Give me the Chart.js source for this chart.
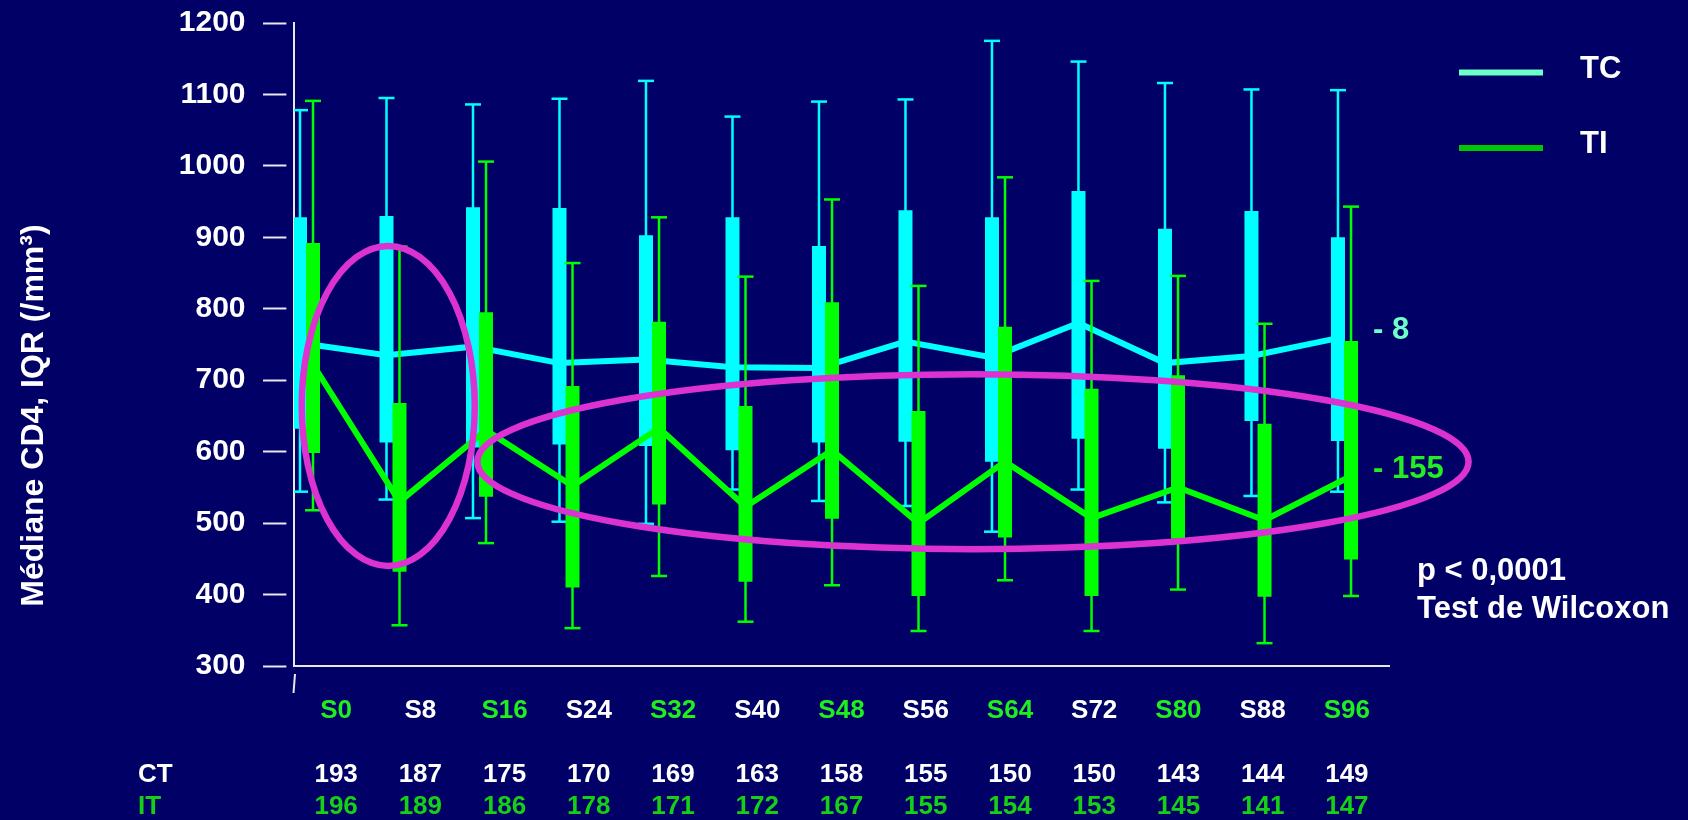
<!DOCTYPE html>
<html>
<head>
<meta charset="utf-8">
<title>Médiane CD4 – TC / TI</title>
<script src="https://cdn.jsdelivr.net/npm/chart.js@4.4.1/dist/chart.umd.min.js"></script>
<style>
  html, body { margin: 0; padding: 0; background: #000066; }
  canvas { display: block; }
</style>
</head>
<body>
<canvas id="cd4" width="1688" height="820"></canvas>
<script>
// Visits (weeks) and patients per arm at each visit
const weekLabels = ['S0', 'S8', 'S16', 'S24', 'S32', 'S40', 'S48', 'S56', 'S64', 'S72', 'S80', 'S88', 'S96'];
const ctCounts = [193, 187, 175, 170, 169, 163, 158, 155, 150, 150, 143, 144, 149];
const itCounts = [196, 189, 186, 178, 171, 172, 167, 155, 154, 153, 145, 141, 147];

// CD4 (/mm3) – continuous therapy (TC)
const tcMax    = [1078, 1095, 1086, 1094, 1119, 1069, 1090, 1093, 1175, 1146, 1116, 1107, 1106];
const tcQ3     = [928, 930, 942, 941, 903, 928, 888, 938, 928, 965, 912, 937, 900];
const tcMedian = [752, 735, 747, 724, 729, 718, 717, 754, 732, 780, 724, 734, 759];
const tcQ1     = [632, 613, 606, 610, 608, 602, 613, 614, 586, 618, 604, 643, 615];
const tcMin    = [544, 533, 507, 502, 499, 547, 531, 524, 488, 547, 529, 538, 544];

// CD4 (/mm3) – intermittent therapy (TI)
const tiMax    = [1091, 887, 1006, 864, 928, 845, 953, 832, 984, 839, 846, 779, 943];
const tiQ3     = [892, 668, 795, 692, 782, 664, 809, 657, 775, 688, 707, 639, 755];
const tiMedian = [722, 530, 630, 552, 633, 523, 602, 500, 586, 507, 550, 504, 566];
const tiQ1     = [598, 432, 537, 410, 526, 418, 506, 398, 480, 398, 478, 397, 449];
const tiMin    = [518, 357, 472, 353, 426, 362, 413, 349, 420, 349, 407, 332, 398];

// Y axis range
const yMin = 300;
const yMax = 1200;
const yStep = 100;

const FONT = "'Liberation Sans', Arial, Helvetica, sans-serif";
const WHITE = '#FFFFFF';
const AXIS = '#E8E8F0';
const CYAN = '#00FFFF';
const GREEN = '#00FF00';
const LABEL_GREEN = '#1FEF1F';
const COUNT_GREEN = '#16D016';
const RING = '#DC32D2';

Chart.defaults.font.family = FONT;
Chart.defaults.font.weight = 'bold';
Chart.defaults.color = WHITE;

const boxData = (lo, hi) => lo.map((v, i) => ({ x: i, y: [v, hi[i]] }));
const pointData = vals => vals.map((v, i) => ({ x: i, y: v }));

function seriesDatasets(name, color, axisId, mn, q1, med, q3, mx, baseOrder) {
  return [
    { type: 'bar', label: name + ' range', data: boxData(mn, mx), xAxisID: axisId,
      backgroundColor: color, barThickness: 2.5, grouped: false, inflateAmount: 0, order: baseOrder + 3 },
    { type: 'line', label: name + ' caps', data: pointData(mx).concat(pointData(mn)), xAxisID: axisId,
      showLine: false, pointStyle: 'line', pointRadius: 8, pointBorderWidth: 2.5,
      pointBorderColor: color, pointBackgroundColor: color, order: baseOrder + 2 },
    { type: 'bar', label: name, data: boxData(q1, q3), xAxisID: axisId,
      backgroundColor: color, barThickness: 14, grouped: false, inflateAmount: 0, order: baseOrder + 1 },
    { type: 'line', label: name + ' médiane', data: pointData(med), xAxisID: axisId,
      borderColor: color, borderWidth: 6, borderJoinStyle: 'miter', pointRadius: 0,
      tension: 0, order: baseOrder }
  ];
}

// Ellipses highlighting the fall of the TI medians (category index / CD4 units)
const rings = [
  { cx: 1.02, cy: 664, rx: 1.0, ry: 224 },
  { cx: 7.78, cy: 586, rx: 5.73, ry: 122.5 }
];

const legendItems = [
  { text: 'TC', color: '#6CFFC8' },
  { text: 'TI', color: '#00C800' }
];

const notes = [
  { text: '- 8', color: '#6CFFC8', dx: -16, value: 757 },
  { text: '- 155', color: '#22EE22', dx: -16, value: 563 },
  { text: 'p < 0,0001', color: WHITE, dx: 28, value: 420.5 },
  { text: 'Test de Wilcoxon', color: WHITE, dx: 28, value: 367 }
];

const yTitle = 'Médiane CD4, IQR (/mm³)';

const overlay = {
  id: 'overlay',
  afterDatasetsDraw(chart) {
    const { ctx } = chart;
    const xs = chart.scales.xC, ys = chart.scales.y;
    ctx.save();
    ctx.strokeStyle = RING;
    ctx.lineWidth = 6.5;
    rings.forEach(r => {
      const px = xs.getPixelForValue(r.cx);
      const py = ys.getPixelForValue(r.cy);
      const rx = xs.getPixelForValue(r.cx + r.rx) - px;
      const ry = py - ys.getPixelForValue(r.cy + r.ry);
      ctx.beginPath();
      ctx.ellipse(px, py, rx, ry, 0, 0, Math.PI * 2);
      ctx.stroke();
    });
    ctx.restore();
  },
  afterDraw(chart) {
    const { ctx, chartArea } = chart;
    const ys = chart.scales.y;
    ctx.save();

    // axis break mark under the y axis
    ctx.strokeStyle = AXIS;
    ctx.lineWidth = 2;
    ctx.beginPath();
    ctx.moveTo(chartArea.left + 1, chartArea.bottom + 8);
    ctx.lineTo(chartArea.left - 0.5, chartArea.bottom + 27);
    ctx.stroke();

    // y axis title
    ctx.save();
    ctx.translate(43, (chartArea.top + chartArea.bottom) / 2 + 71);
    ctx.rotate(-Math.PI / 2);
    ctx.fillStyle = WHITE;
    ctx.font = 'bold 32px ' + FONT;
    ctx.textAlign = 'center';
    ctx.textBaseline = 'alphabetic';
    ctx.fillText(yTitle, 0, 0);
    ctx.restore();

    // legend
    ctx.font = 'bold 31px ' + FONT;
    ctx.textAlign = 'left';
    ctx.textBaseline = 'alphabetic';
    legendItems.forEach((item, i) => {
      const ly = chartArea.top + 49.5 + i * 75.4;
      ctx.strokeStyle = item.color;
      ctx.lineWidth = 6;
      ctx.beginPath();
      ctx.moveTo(chartArea.right + 70, ly);
      ctx.lineTo(chartArea.right + 154, ly);
      ctx.stroke();
      ctx.fillStyle = WHITE;
      ctx.fillText(item.text, chartArea.right + 191, ly + 5);
    });

    // side notes
    notes.forEach(n => {
      ctx.fillStyle = n.color;
      ctx.fillText(n.text, chartArea.right + n.dx, ys.getPixelForValue(n.value));
    });

    // row headers of the count table
    ctx.font = 'bold 26px ' + FONT;
    ctx.textBaseline = 'middle';
    ctx.fillStyle = WHITE;
    ctx.fillText('CT', 138, 775);
    ctx.fillStyle = COUNT_GREEN;
    ctx.fillText('IT', 138, 806.5);
    ctx.restore();
  }
};

const countAxis = (labels, color, weight, padding, height) => ({
  type: 'category',
  labels: labels.map(String),
  position: 'bottom',
  offset: true,
  weight: weight,
  grid: { display: false, drawTicks: false },
  border: { display: false },
  ticks: { color: color, font: { size: 26, weight: 'bold' }, padding: padding, autoSkip: false, maxRotation: 0 },
  afterFit: s => { s.height = height; }
});

new Chart(document.getElementById('cd4'), {
  type: 'bar',
  data: {
    datasets: [
      ...seriesDatasets('TC', CYAN, 'xC', tcMin, tcQ1, tcMedian, tcQ3, tcMax, 5),
      ...seriesDatasets('TI', GREEN, 'xG', tiMin, tiQ1, tiMedian, tiQ3, tiMax, 1)
    ]
  },
  options: {
    responsive: false,
    maintainAspectRatio: false,
    devicePixelRatio: 1,
    animation: false,
    events: [],
    layout: { padding: { top: 0, right: 299, bottom: 0, left: 0 } },
    plugins: { legend: { display: false }, tooltip: { enabled: false } },
    scales: {
      x: {
        type: 'category',
        labels: weekLabels,
        position: 'bottom',
        offset: true,
        weight: 0,
        grid: { display: false, drawTicks: false },
        border: { display: true, color: AXIS, width: 2 },
        ticks: {
          color: c => (c.index % 2 === 0 ? LABEL_GREEN : WHITE),
          font: { size: 26, weight: 'bold' },
          padding: 29.7, autoSkip: false, maxRotation: 0
        },
        afterFit: s => { s.height = 70; }
      },
      xCT: countAxis(ctCounts, WHITE, 1, 23.4, 55),
      xIT: countAxis(itCounts, COUNT_GREEN, 2, 0, 29),
      xC: { type: 'linear', display: false, bounds: 'data', offset: false, min: -0.0694, max: 12.590 },
      xG: { type: 'linear', display: false, bounds: 'data', offset: false, min: -0.2197, max: 12.439 },
      y: {
        type: 'linear',
        position: 'left',
        min: yMin,
        max: yMax,
        z: 1,
        ticks: {
          stepSize: yStep, autoSkip: false, color: WHITE,
          font: { size: 30, weight: 'bold' }, padding: 17.5,
          callback: v => String(v)
        },
        grid: {
          drawOnChartArea: false, drawTicks: true, tickLength: 31,
          tickColor: AXIS, tickWidth: 2,
          tickBorderDash: [23.4, 100], tickBorderDashOffset: 0
        },
        border: { display: true, color: AXIS, width: 2 },
        afterFit: s => { s.width = 294; s.paddingTop = 23; s.paddingBottom = 0; }
      }
    }
  },
  plugins: [overlay]
});
</script>
</body>
</html>
